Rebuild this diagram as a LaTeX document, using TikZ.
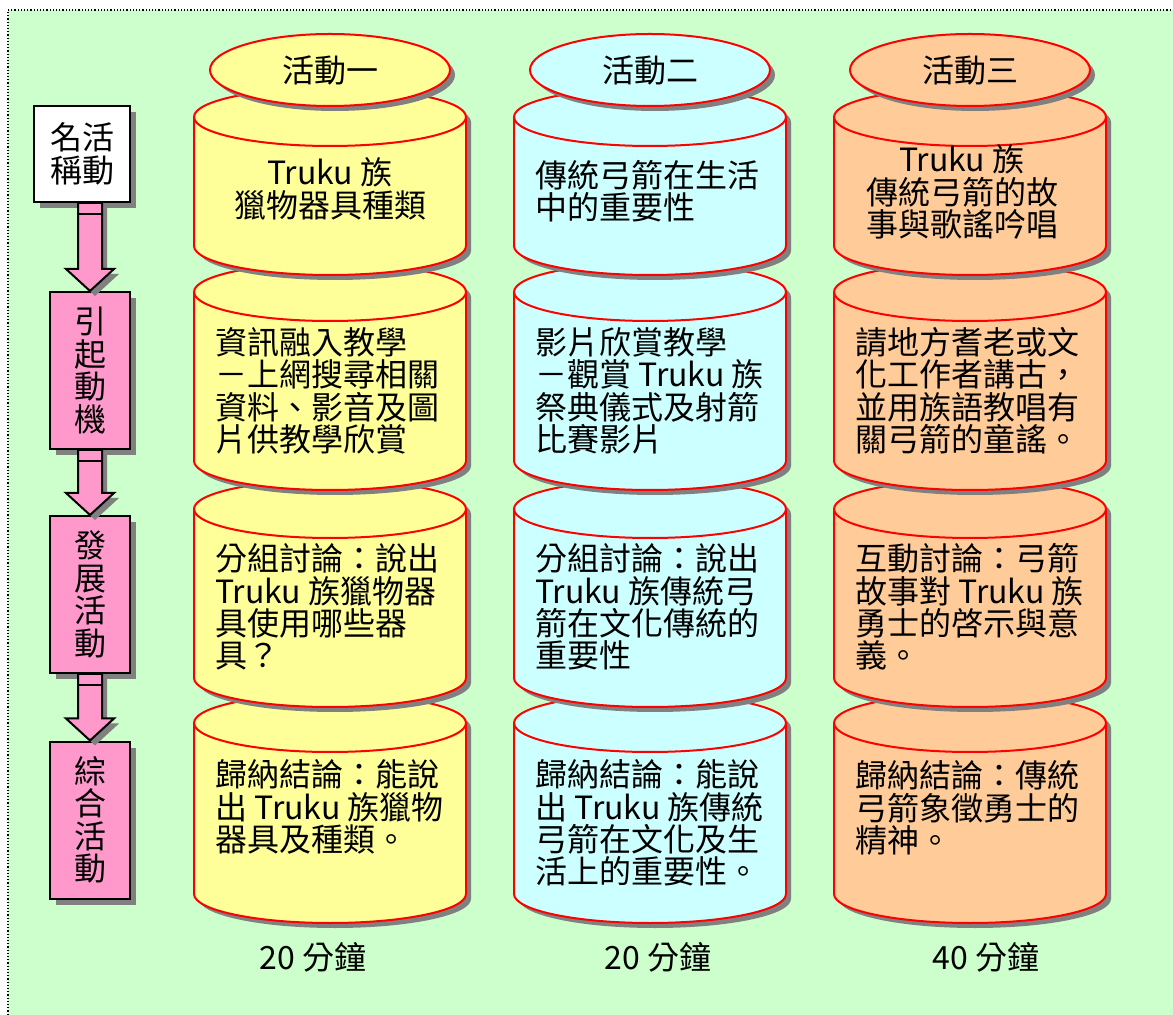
\documentclass[tikz,border=0pt]{standalone}
\usepackage{fontspec}
\setmainfont{Noto Sans CJK TC}
\usepackage{tikz}
\usetikzlibrary{positioning, calc, shadows, shapes.geometric}
\definecolor{bggreen}{HTML}{CCFFCC}
\definecolor{tubeyellow}{HTML}{FFFF99}
\definecolor{tubecyan}{HTML}{CCFFFF}
\definecolor{tubeorange}{HTML}{FFCC99}
\definecolor{phasepink}{HTML}{FF99CC}
\definecolor{shadowgray}{HTML}{808080}
\tikzset{
	grayshadow/.style={
		drop shadow={opacity=1, fill=shadowgray, shadow xshift=#1, shadow yshift=-#1}
	},
	grayshadow/.default=2.5pt,
	bigfont/.style={
		font={\fontsize{16pt}{16.2pt}\selectfont}
	},
	tube/.style={
		draw=red,
		line width=1pt,
		fill=#1,
		grayshadow
	},
	flow/.style={
		draw,
		line width=1pt,
		fill=phasepink,
		line join=miter,
		grayshadow
	}
}
% one cylinder: centre x, top y, bottom y, colour
\newcommand{\drawtube}[4]{%
	\draw[tube=#4] (#1-136,-#2-29) -- (#1-136,-#3+29)
		arc[start angle=180, end angle=360, x radius=136, y radius=29]
		-- (#1+136,-#2-29)
		arc[start angle=0, end angle=180, x radius=136, y radius=29] -- cycle;
	\draw[red, line width=1pt] (#1-136,-#2-29)
		arc[start angle=180, end angle=360, x radius=136, y radius=29];
}
% block arrow from one box down to the next
\newcommand{\flowarrow}[2]{%
	\draw[flow] ($(#2.north |- #1.south)+(-12,0)$) -- ($(#2.north)+(-12,22)$)
		-- ($(#2.north)+(-24,22)$) -- (#2.north) -- ($(#2.north)+(24,22)$)
		-- ($(#2.north)+(12,22)$) -- ($(#2.north |- #1.south)+(12,0)$) -- cycle;
	\draw[line width=1pt] ($(#2.north |- #1.south)+(-12,-11)$) -- ($(#2.north |- #1.south)+(12,-11)$);
}

\begin{document}
\begin{tikzpicture}[
	x=0.5pt, y=0.5pt,
	title/.style = {ellipse, draw=red, line width=1pt, fill=#1, minimum width=120pt, minimum height=36pt, inner sep=0pt, bigfont, grayshadow},
	tubetext/.style = {align=left, inner sep=0pt, bigfont},
	phasebox/.style = {draw, line width=1pt, fill=phasepink, minimum width=40pt, minimum height=78.5pt, align=center, inner sep=0pt, bigfont, grayshadow=3pt},
	duration/.style = {inner sep=0pt, bigfont}
	]
	\useasboundingbox (0,0) rectangle (1173,-1015);
	\fill[white] (0,0) rectangle (1173,-1015);
	\fill[bggreen] (8,-10) rectangle (1190,-1030);
	\draw[densely dotted, line width=0.6pt] (1190,-10) -- (8,-10) -- (8,-1030);
	
	% Cylinders, lowest first
	\foreach \cx/\col in {330/tubeyellow, 650/tubecyan, 970/tubeorange}{
		\drawtube{\cx}{694}{923}{\col}
		\drawtube{\cx}{480}{707}{\col}
		\drawtube{\cx}{263}{490}{\col}
		\drawtube{\cx}{88}{275}{\col}
	}
	\node[title=tubeyellow] (act1) at (330,-70) {活動一};
	\node[title=tubecyan] (act2) at (650,-70) {活動二};
	\node[title=tubeorange] (act3) at (970,-70) {活動三};
	
	% Activity one
	\node[tubetext, align=center] (a11) at (330,-189) {Truku 族\\獵物器具種類};
	\node[tubetext, anchor=west] (a12) at (215,-391) {資訊融入教學\\－上網搜尋相關\\資料、影音及圖\\片供教學欣賞};
	\node[tubetext, anchor=west] (a13) at (215,-607) {分組討論：說出\\Truku 族獵物器\\具使用哪些器\\具？};
	\node[tubetext, anchor=west] (a14) at (215,-807) {歸納結論：能說\\出 Truku 族獵物\\器具及種類。};
	
	% Activity two
	\node[tubetext, anchor=west] (a21) at (535,-191) {傳統弓箭在生活\\中的重要性};
	\node[tubetext, anchor=west] (a22) at (535,-391) {影片欣賞教學\\－觀賞 Truku 族\\祭典儀式及射箭\\比賽影片};
	\node[tubetext, anchor=west] (a23) at (535,-607) {分組討論：說出\\Truku 族傳統弓\\箭在文化傳統的\\重要性};
	\node[tubetext, anchor=west] (a24) at (535,-823) {歸納結論：能說\\出 Truku 族傳統\\弓箭在文化及生\\活上的重要性。};
	
	% Activity three
	\node[tubetext, align=center] (a31) at (962,-192) {Truku 族\\傳統弓箭的故\\事與歌謠吟唱};
	\node[tubetext, anchor=west] (a32) at (855,-391) {請地方耆老或文\\化工作者講古，\\並用族語教唱有\\關弓箭的童謠。};
	\node[tubetext, anchor=west] (a33) at (855,-607) {互動討論：弓箭\\故事對 Truku 族\\勇士的啓示與意\\義。};
	\node[tubetext, anchor=west] (a34) at (855,-808) {歸納結論：傳統\\弓箭象徵勇士的\\精神。};
	
	% Time per activity
	\node[duration] (t1) at (313,-957) {20 分鐘};
	\node[duration] (t2) at (658,-957) {20 分鐘};
	\node[duration] (t3) at (986,-957) {40 分鐘};
	
	% Phases on the left
	\node[phasebox, fill=white, minimum width=48pt, minimum height=48pt] (b1) at (82,-154) {名活\\稱動};
	\node[phasebox] (b2) at (90,-370.5) {引\\起\\動\\機};
	\node[phasebox] (b3) at (90,-594.5) {發\\展\\活\\動};
	\node[phasebox] (b4) at (90,-820) {綜\\合\\活\\動};
	
	\flowarrow{b1}{b2}
	\flowarrow{b2}{b3}
	\flowarrow{b3}{b4}
	
\end{tikzpicture}
\end{document}
